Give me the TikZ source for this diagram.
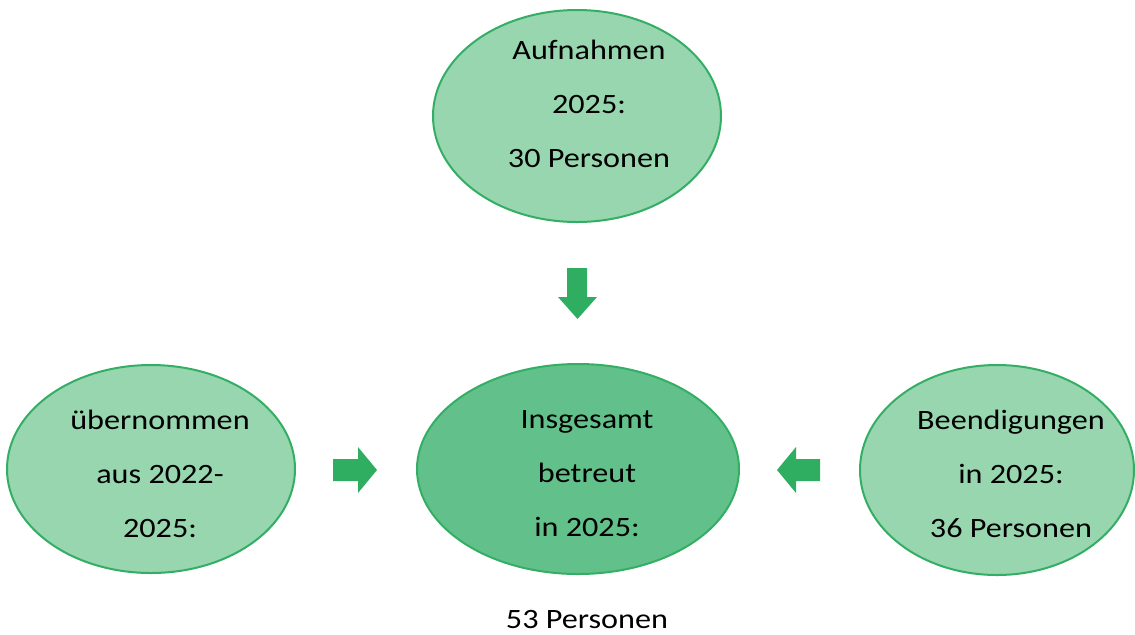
\documentclass[tikz,border=0pt]{standalone}
\usepackage{fontspec}
\setmainfont{Carlito}[FakeStretch=1.15]
\usetikzlibrary{shapes.geometric}
\definecolor{hellgruen}{HTML}{97D6AF}
\definecolor{mittelgruen}{HTML}{62C18A}
\definecolor{randgruen}{HTML}{34AE64}
\definecolor{pfeilgruen}{HTML}{2FAE62}
\begin{document}
\begin{tikzpicture}[x=0.5pt,y=-0.5pt]
	\tikzstyle{pfeil}=[fill=pfeilgruen,draw=none]
	\tikzset{kreis/.style={draw=randgruen,line width=1pt,ellipse,fill=hellgruen,inner sep=0pt},kreis/.default={},beschrift/.style={align=center,inner sep=0pt,font=\fontsize{14}{27}\selectfont}}
	\useasboundingbox (0,0) rectangle (1135,634);
	\node[kreis,minimum width=144pt,minimum height=106pt] (aufn) at (577,116) {};
	\node[kreis,minimum width=144pt,minimum height=104pt] (uebern) at (151,469) {};
	\node[kreis,fill=mittelgruen,minimum width=161pt,minimum height=105pt] (gesamt) at (578,469) {};
	\node[kreis,minimum width=137pt,minimum height=105pt] (beend) at (997,470) {};
	\node[beschrift] (taufn) at (589,104) {Aufnahmen\\2025:\\30 Personen};
	\node[beschrift] (tuebern) at (160,474) {übernommen\\aus 2022-\\2025:};
	\node[beschrift] (tgesamt) at (587,474) {Insgesamt\\betreut\\in 2025:};
	\node[beschrift] (tbeend) at (1011,474) {Beendigungen\\in 2025:\\36 Personen};
	\node[beschrift] (tsumme) at (587,620) {53 Personen};
	\fill[pfeil] (567,268) -- (587,268) -- (587,297) -- (597,297) -- (577.5,319) -- (558,297) -- (567,297) -- cycle;
	\fill[pfeil] (333,459) -- (358,459) -- (358,447) -- (377,470) -- (358,493) -- (358,481) -- (333,481) -- cycle;
	\fill[pfeil] (820,459) -- (796,459) -- (796,447) -- (777,470) -- (796,493) -- (796,481) -- (820,481) -- cycle;
\end{tikzpicture}
\end{document}
